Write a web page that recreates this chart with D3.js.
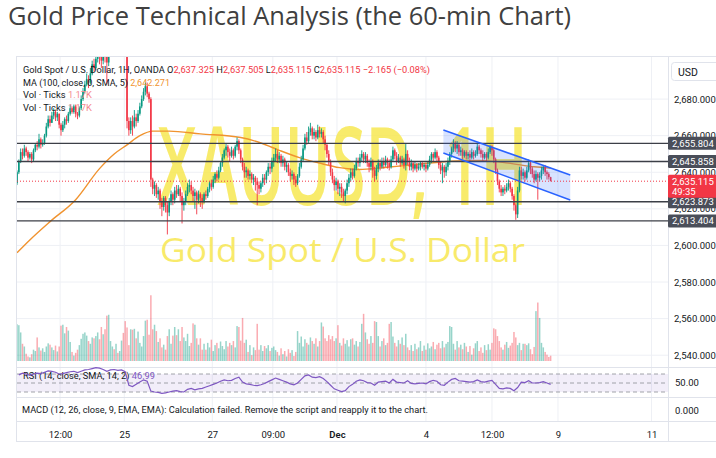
<!DOCTYPE html>
<html>
<head>
<meta charset="utf-8">
<script src="https://cdn.jsdelivr.net/npm/d3@7"></script>
<style>
  html, body { margin: 0; padding: 0; background: #ffffff; }
  svg { display: block; font-family: Roboto, "Liberation Sans", sans-serif; }
</style>
</head>
<body>
<svg id="chart" width="716" height="458"></svg>
<script>
// ---- XAUUSD 1H candles (open of each bar = previous close) ----
const firstOpen = 2634;
const closes = [
  2640,2646,2651,2649,2653,2651,2648,2650,2647,2652,
  2655,2654,2658,2655,2656,2660,2665,2669,2667,2671,
  2673,2670,2672,2666,2663,2666,2669,2668,2672,2675,
  2673,2676,2672,2671,2675,2680,2684,2688,2691,2689,
  2694,2699,2697,2702,2706,2703,2701,2705,2703,2700,
  2706,2710,2713,2712,2714,2711,2713,2715,2712,2710,
  2668,2663,2668,2665,2670,2668,2672,2676,2680,2684,
  2687,2683,2680,2636,2631,2633,2628,2630,2624,2621,
  2626,2622,2618,2624,2628,2625,2630,2628,2631,2627,
  2622,2624,2628,2632,2633,2630,2627,2629,2625,2628,
  2626,2624,2628,2627,2631,2634,2632,2636,2639,2637,
  2641,2645,2648,2652,2654,2651,2649,2652,2649,2654,
  2657,2652,2647,2643,2640,2641,2638,2639,2636,2637,
  2635,2633,2631,2634,2637,2636,2640,2643,2642,2646,
  2648,2650,2647,2649,2645,2647,2643,2644,2640,2638,
  2639,2636,2634,2638,2643,2647,2653,2659,2657,2662,
  2664,2660,2662,2659,2663,2661,2662,2658,2655,2650,
  2646,2640,2636,2633,2635,2631,2632,2629,2627,2630,
  2634,2637,2640,2638,2642,2646,2645,2648,2650,2647,
  2649,2645,2643,2646,2641,2638,2642,2645,2643,2646,
  2644,2647,2645,2643,2647,2652,2649,2646,2648,2645,
  2647,2644,2650,2646,2643,2645,2642,2644,2642,2643,
  2645,2643,2644,2642,2644,2647,2650,2648,2651,2648,
  2644,2641,2643,2640,2643,2646,2650,2653,2656,2653,
  2655,2651,2652,2649,2651,2649,2650,2648,2651,2649,
  2650,2654,2652,2650,2648,2650,2648,2651,2654,2652,
  2647,2641,2635,2631,2629,2631,2630,2632,2634,2631,
  2627,2622,2617,2630,2641,2638,2640,2637,2641,2645,
  2642,2639,2636,2639,2637,2638,2641,2643,2640,2639,
  2637.325,2635.115
];
const highs = [
  2641,2647,2653,2653,2655,2654,2652,2651,2651,2653,
  2656,2657,2661,2659,2658,2661,2667,2671,2671,2673,
  2675,2674,2673,2672,2667,2668,2670,2671,2673,2677,
  2676,2677,2677,2673,2676,2682,2686,2690,2694,2693,
  2697,2701,2702,2706,2710,2708,2705,2707,2708,2706,
  2709,2713,2716,2717,2718,2716,2716,2718,2716,2714,
  2711,2670,2670,2671,2674,2672,2674,2678,2682,2686,
  2689,2689,2684,2681,2637,2635,2634,2632,2631,2626,
  2627,2627,2624,2626,2630,2629,2632,2633,2633,2632,
  2629,2626,2630,2634,2636,2635,2632,2631,2630,2630,
  2629,2628,2629,2630,2632,2635,2636,2638,2640,2641,
  2643,2646,2650,2653,2656,2655,2653,2654,2653,2655,
  2659,2658,2653,2648,2645,2643,2642,2641,2640,2639,
  2638,2637,2635,2635,2639,2639,2641,2645,2645,2648,
  2650,2653,2652,2651,2650,2649,2648,2646,2645,2642,
  2641,2640,2638,2639,2645,2649,2655,2661,2662,2665,
  2667,2665,2664,2663,2666,2665,2664,2663,2660,2656,
  2652,2647,2642,2638,2637,2636,2634,2634,2631,2631,
  2636,2639,2642,2642,2644,2648,2648,2650,2652,2651,
  2651,2650,2647,2648,2647,2643,2644,2647,2647,2648,
  2648,2649,2648,2647,2649,2654,2653,2651,2650,2649,
  2649,2648,2656,2652,2648,2647,2646,2646,2645,2645,
  2646,2646,2645,2645,2646,2649,2651,2651,2653,2652,
  2649,2646,2645,2644,2645,2648,2651,2654,2658,2657,
  2657,2656,2654,2653,2652,2652,2651,2652,2653,2652,
  2652,2656,2655,2653,2652,2651,2651,2653,2655,2655,
  2653,2648,2642,2636,2633,2632,2633,2634,2636,2635,
  2632,2628,2623,2632,2643,2643,2642,2641,2643,2647,
  2646,2643,2641,2641,2640,2640,2643,2644,2644,2641,
  2640,2637.505
];
const lows = [
  2633,2639,2645,2647,2648,2649,2646,2647,2645,2646,
  2651,2652,2653,2653,2654,2655,2659,2664,2665,2667,
  2669,2668,2668,2664,2660,2662,2664,2666,2667,2671,
  2672,2672,2670,2669,2670,2674,2679,2683,2687,2686,
  2688,2693,2695,2696,2700,2699,2697,2699,2700,2688,
  2698,2705,2709,2709,2710,2708,2709,2711,2709,2707,
  2664,2660,2661,2660,2664,2665,2667,2671,2675,2679,
  2682,2681,2678,2632,2628,2627,2626,2625,2620,2616,
  2619,2618,2606,2616,2622,2622,2623,2626,2627,2624,
  2612,2619,2622,2627,2629,2628,2624,2620,2617,2623,
  2621,2620,2623,2625,2626,2629,2630,2631,2634,2635,
  2636,2640,2643,2647,2649,2648,2646,2648,2647,2648,
  2652,2650,2645,2641,2637,2637,2636,2636,2634,2633,
  2630,2622,2628,2629,2632,2633,2634,2638,2639,2640,
  2643,2646,2645,2645,2643,2643,2641,2640,2638,2635,
  2636,2633,2632,2633,2637,2642,2646,2652,2655,2656,
  2660,2658,2658,2657,2658,2659,2659,2656,2652,2648,
  2644,2638,2634,2630,2630,2628,2627,2626,2624,2623,
  2628,2632,2635,2636,2637,2641,2643,2643,2646,2645,
  2645,2643,2640,2641,2637,2635,2636,2640,2641,2642,
  2642,2643,2642,2641,2642,2646,2647,2644,2645,2643,
  2644,2642,2641,2644,2641,2641,2640,2641,2640,2641,
  2641,2642,2641,2640,2641,2643,2645,2646,2647,2646,
  2642,2639,2634,2637,2638,2641,2644,2648,2651,2651,
  2650,2649,2649,2647,2648,2647,2647,2646,2647,2647,
  2648,2649,2650,2648,2646,2647,2646,2647,2650,2649,
  2645,2639,2633,2629,2627,2627,2628,2629,2630,2629,
  2625,2619,2614,2615,2629,2636,2636,2635,2636,2640,
  2639,2637,2634,2635,2625,2635,2636,2639,2638,2636,
  2636,2635.115
];
// Tick volume per bar, thousands
const volumes = [
  8.1,7.9,6.3,3.8,3.2,1.6,1.0,0.8,1.5,2.5,
  2.2,5.2,3.0,2.3,2.8,2.0,3.2,3.9,3.6,3.0,
  2.4,3.4,2.1,3.2,7.8,8.0,6.1,7.5,6.7,4.2,
  2.0,1.2,1.8,2.5,3.5,4.9,6.0,6.3,5.6,4.4,
  3.8,5.2,5.0,5.5,6.3,4.8,7.5,5.9,7.0,10.0,
  10.2,4.4,3.2,2.6,3.8,1.8,2.2,4.5,6.2,8.8,
  7.4,3.5,7.0,6.9,7.1,5.0,6.5,4.0,3.2,5.5,
  8.9,9.1,5.8,14.5,7.0,8.0,6.6,4.2,5.0,3.0,
  3.6,2.5,5.5,7.0,3.8,5.6,7.5,5.7,7.0,4.4,
  7.5,5.2,4.4,6.0,3.3,4.0,8.3,8.0,5.0,3.6,
  5.0,2.5,3.8,2.5,4.0,3.0,4.7,2.2,3.5,4.0,
  2.8,4.3,3.3,2.6,4.4,3.2,4.0,3.5,4.4,3.0,
  7.7,7.5,4.5,9.5,4.0,4.7,2.0,3.5,1.3,3.0,
  2.4,8.2,2.5,3.5,2.2,3.3,2.8,3.5,2.2,2.9,
  3.2,2.4,2.0,1.2,2.8,1.5,2.2,1.0,2.6,1.8,
  2.4,1.1,2.0,6.6,4.0,5.4,3.2,4.8,4.0,3.6,
  5.2,4.4,3.8,5.0,3.2,4.4,8.5,7.6,5.0,4.4,
  5.7,4.8,5.5,4.4,5.0,7.9,4.0,3.4,5.0,3.8,
  4.6,3.2,4.8,5.0,3.6,4.4,3.2,4.2,8.2,10.4,
  6.3,4.8,3.8,5.5,4.0,8.8,8.6,5.5,3.2,4.4,
  5.0,3.5,4.0,8.2,8.6,5.4,4.0,3.2,4.6,3.8,
  5.2,3.5,6.0,3.0,2.4,3.5,2.2,3.8,2.6,3.0,
  4.4,2.2,3.4,2.5,3.9,2.8,3.2,4.2,2.6,3.6,
  4.0,2.8,4.4,3.0,3.8,4.2,7.7,7.5,3.8,2.5,
  4.4,3.0,3.6,2.6,4.0,3.2,2.0,3.3,1.4,2.8,
  3.9,4.4,2.2,3.0,1.8,3.5,2.4,3.7,2.5,4.0,
  7.2,7.0,5.5,4.4,3.0,2.5,3.6,4.2,2.9,3.4,
  4.0,6.4,5.2,3.5,4.0,2.4,3.8,3.8,3.5,3.9,
  2.6,1.5,3.1,11.0,12.9,9.5,4.0,3.0,2.0,1.4,
  0.9,1.17
];
// RSI(14) sampled on bars 1, 3, 5, ... 291
const rsiValues = [
  68,72,70,67,70,72,71,74,77,76,
  74,70,71,73,75,76,73,76,79,80,
  82,84,83,80,76,79,80,78,79,75,
  45,42,47,52,57,54,32,30,29,27,
  28,30,32,33,31,30,36,38,35,37,
  38,41,44,47,50,54,57,55,56,60,
  63,52,48,47,45,44,46,49,53,57,
  61,58,55,52,48,46,50,58,66,68,
  63,62,64,60,53,45,37,34,31,33,
  42,47,54,57,55,51,50,45,52,53,
  54,50,58,52,51,50,55,49,48,49,
  50,48,53,56,54,46,45,52,58,60,
  55,54,53,52,53,57,53,52,54,56,
  47,38,37,39,38,33,40,52,51,55,
  50,50,51,53,50,46.99
];
// MA(100) readings at selected bars
const maBars   = [0, 7, 18, 32, 45, 53, 60, 67, 74, 83, 100, 122, 133, 143, 154, 165, 176, 187, 199, 220, 236, 252, 268, 282, 291];
const maValues = [2596, 2603, 2613, 2625, 2642, 2650, 2655, 2660, 2662.5, 2662.5, 2661, 2659, 2656, 2652, 2648, 2645, 2642.5, 2641.5, 2642.5, 2644.5, 2646, 2646.5, 2645, 2643, 2642.271];

// Horizontal support / resistance levels and last price
const levels = [2655.804, 2645.858, 2623.873, 2613.404];
const lastPrice = 2635.115;
const priceTicks = [2680, 2660, 2640, 2620, 2600, 2580, 2560, 2540];
const timeLabels = ["12:00", "25", "27", "09:00", "Dec", "4", "12:00", "9", "11"];
const timeTickBars = [23.5, 58.5, 106.5, 139.5, 174.5, 223, 259, 295, 346];
// Descending channel drawing (start/end bar, upper & lower prices)
const channelBars  = [232.5, 301.7];
const channelUpper = [2663.1, 2638.5];
const channelLower = [2650.5, 2624.8];

// ---- layout ----
const svg = d3.select("#chart");
const plotL = 17, plotR = 668, priceTop = 57, priceBot = 367;
const UP = "#089981", DOWN = "#f23645";

const x = d3.scaleLinear().domain([0, 355]).range([plotL, plotR]);
const y = d3.scaleLinear().domain([2533, 2703]).range([368, 57]);
const yVol = d3.scaleLinear().domain([0, 15]).range([361, 293]);
const yRsi = d3.scaleLinear().domain([30, 70]).range([392, 374]);

const bars = closes.map((c, i) => ({
  i, c, h: highs[i], l: lows[i], v: volumes[i],
  o: i === 0 ? firstOpen : closes[i - 1]
}));

// Title
svg.append("text")
  .attr("x", 8).attr("y", 25)
  .attr("font-family", "'Open Sans', sans-serif")
  .attr("font-size", 25).attr("fill", "#404040")
  .attr("textLength", 563).attr("lengthAdjust", "spacingAndGlyphs")
  .text("Gold Price Technical Analysis (the 60-min Chart)");

// Chart frame
svg.append("rect").attr("x", 16.5).attr("y", 56.5).attr("width", 720).attr("height", 385)
  .attr("fill", "#ffffff").attr("stroke", "#e0e3eb");

// Grid
const grid = svg.append("g");
grid.selectAll("line.v").data(timeTickBars).join("line")
  .attr("x1", d => x(d)).attr("x2", d => x(d))
  .attr("y1", priceTop).attr("y2", 421)
  .attr("stroke", "#eef0f5");
grid.selectAll("line.h").data(priceTicks).join("line")
  .attr("x1", plotL).attr("x2", plotR)
  .attr("y1", d => y(d)).attr("y2", d => y(d))
  .attr("stroke", "#eef0f5");

// Pane separators
[367.5, 397.5, 421.5].forEach(py => {
  svg.append("line").attr("x1", plotL).attr("x2", 716).attr("y1", py).attr("y2", py)
    .attr("stroke", "#e0e3eb");
});
svg.append("line").attr("x1", plotR + 0.5).attr("x2", plotR + 0.5).attr("y1", priceTop).attr("y2", 442)
  .attr("stroke", "#e0e3eb");

// Price pane clip
svg.append("clipPath").attr("id", "pane")
  .append("rect").attr("x", plotL).attr("y", priceTop).attr("width", plotR - plotL).attr("height", priceBot - priceTop);
const pane = svg.append("g").attr("clip-path", "url(#pane)");

// Watermark
const cx = (plotL + plotR) / 2;
pane.append("text")
  .attr("x", cx).attr("y", 205).attr("text-anchor", "middle")
  .attr("font-family", "'Open Sans', sans-serif").attr("font-size", 108).attr("font-weight", 600)
  .attr("fill", "#f7e64a").attr("fill-opacity", 0.82)
  .attr("textLength", 370).attr("lengthAdjust", "spacingAndGlyphs")
  .text("XAUUSD, 1H");
pane.append("text")
  .attr("x", cx).attr("y", 262).attr("text-anchor", "middle")
  .attr("font-family", "'Open Sans', sans-serif").attr("font-size", 33)
  .attr("fill", "#f7e64a").attr("fill-opacity", 0.82)
  .attr("textLength", 365).attr("lengthAdjust", "spacingAndGlyphs")
  .text("Gold Spot / U.S. Dollar");

// Legend
const legend = svg.append("g").attr("font-size", 9.5);
const l1 = legend.append("text").attr("x", 23).attr("y", 72.5)
  .attr("textLength", 407).attr("lengthAdjust", "spacingAndGlyphs");
l1.append("tspan").attr("fill", "#131722").text("Gold Spot / U.S. Dollar, 1H, OANDA  ");
[["O", "2,637.325"], ["H", "2,637.505"], ["L", "2,635.115"], ["C", "2,635.115"]].forEach(([k, v]) => {
  l1.append("tspan").attr("fill", "#131722").text(k);
  l1.append("tspan").attr("fill", DOWN).text(v + "  ");
});
l1.append("tspan").attr("fill", DOWN).text("\u22122.165 (\u22120.08%)");

const l2 = legend.append("text").attr("x", 23).attr("y", 85.5)
  .attr("textLength", 147).attr("lengthAdjust", "spacingAndGlyphs");
l2.append("tspan").attr("fill", "#131722").text("MA (100, close, 0, SMA, 5)  ");
l2.append("tspan").attr("fill", "#f0932f").text("2,642.271");

[98, 110.5].forEach(ly => {
  const t = legend.append("text").attr("x", 23).attr("y", ly)
    .attr("textLength", 69).attr("lengthAdjust", "spacingAndGlyphs");
  t.append("tspan").attr("fill", "#131722").text("Vol \u00b7 Ticks  ");
  t.append("tspan").attr("fill", "#f48a8f").text("1.17K");
});

// Volume overlay
pane.append("g").selectAll("rect").data(bars).join("rect")
  .attr("x", d => x(d.i) - 0.75).attr("width", 1.5)
  .attr("y", d => yVol(d.v)).attr("height", d => yVol(0) - yVol(d.v))
  .attr("fill", d => d.c >= d.o ? UP : DOWN).attr("fill-opacity", 0.42);

// Moving average
pane.append("path")
  .datum(maBars.map((b, k) => [b, maValues[k]]))
  .attr("fill", "none").attr("stroke", "#f0932f").attr("stroke-width", 1.4)
  .attr("d", d3.line().x(d => x(d[0])).y(d => y(d[1])).curve(d3.curveMonotoneX));

// Candles
const cg = pane.append("g");
cg.selectAll("line").data(bars).join("line")
  .attr("x1", d => x(d.i)).attr("x2", d => x(d.i))
  .attr("y1", d => y(d.h)).attr("y2", d => y(d.l))
  .attr("stroke", d => d.c >= d.o ? UP : DOWN).attr("stroke-width", 0.9);
cg.selectAll("rect").data(bars).join("rect")
  .attr("x", d => x(d.i) - 0.8).attr("width", 1.6)
  .attr("y", d => y(Math.max(d.o, d.c)))
  .attr("height", d => Math.max(0.8, Math.abs(y(d.o) - y(d.c))))
  .attr("fill", d => d.c >= d.o ? UP : DOWN);

// Horizontal levels
pane.selectAll("line.lvl").data(levels).join("line")
  .attr("x1", plotL).attr("x2", plotR)
  .attr("y1", d => y(d)).attr("y2", d => y(d))
  .attr("stroke", "#3c3f47").attr("stroke-width", 1.4);

// Descending channel
const chPoly = [
  [channelBars[0], channelUpper[0]], [channelBars[1], channelUpper[1]],
  [channelBars[1], channelLower[1]], [channelBars[0], channelLower[0]]
];
pane.append("polygon")
  .attr("points", chPoly.map(p => [x(p[0]), y(p[1])].join(",")).join(" "))
  .attr("fill", "#2962ff").attr("fill-opacity", 0.18);
[channelUpper, channelLower].forEach(arr => {
  pane.append("line")
    .attr("x1", x(channelBars[0])).attr("y1", y(arr[0]))
    .attr("x2", x(channelBars[1])).attr("y2", y(arr[1]))
    .attr("stroke", "#2962ff").attr("stroke-width", 1.5);
});

// Last price line
pane.append("line")
  .attr("x1", plotL).attr("x2", plotR)
  .attr("y1", y(lastPrice)).attr("y2", y(lastPrice))
  .attr("stroke", DOWN).attr("stroke-width", 1).attr("stroke-dasharray", "1,2");

// RSI pane
svg.append("rect").attr("x", plotL).attr("width", plotR - plotL)
  .attr("y", yRsi(70)).attr("height", yRsi(30) - yRsi(70))
  .attr("fill", "#7e57c2").attr("fill-opacity", 0.1);
[70, 50, 30].forEach(v => {
  svg.append("line").attr("x1", plotL).attr("x2", plotR)
    .attr("y1", yRsi(v)).attr("y2", yRsi(v))
    .attr("stroke", "#8a8d96").attr("stroke-width", 0.8).attr("stroke-dasharray", "4,3");
});
const rsiLeg = svg.append("text").attr("x", 23).attr("y", 378.5).attr("font-size", 9.5)
  .attr("textLength", 132).attr("lengthAdjust", "spacingAndGlyphs");
rsiLeg.append("tspan").attr("fill", "#131722").text("RSI (14, close, SMA, 14, 2)  ");
rsiLeg.append("tspan").attr("fill", "#7e57c2").text("46.99");
svg.append("path")
  .datum(rsiValues.map((v, k) => [2 * k + 1, v]))
  .attr("fill", "none").attr("stroke", "#7e57c2").attr("stroke-width", 1.2)
  .attr("d", d3.line().x(d => x(d[0])).y(d => yRsi(d[1])));

// MACD pane text
svg.append("text").attr("x", 22).attr("y", 413).attr("font-size", 9.5).attr("fill", "#131722")
  .attr("textLength", 406).attr("lengthAdjust", "spacingAndGlyphs")
  .text("MACD (12, 26, close, 9, EMA, EMA): Calculation failed. Remove the script and reapply it to the chart.");

// Right price axis
const fmt = d3.format(",.3f");
const yAxis = svg.append("g").attr("transform", `translate(${plotR + 3},0)`)
  .call(d3.axisRight(y).tickValues(priceTicks).tickSize(0).tickFormat(fmt));
yAxis.select(".domain").remove();
yAxis.selectAll("text").attr("font-size", 9.5).attr("fill", "#131722")
  .attr("font-family", "Roboto, sans-serif");

svg.append("text").attr("x", 675).attr("y", 385.5).attr("font-size", 9.5).attr("fill", "#131722").text("50.00");
svg.append("text").attr("x", 675).attr("y", 413.5).attr("font-size", 9.5).attr("fill", "#131722").text("0.000");

// Level tags
const tags = svg.append("g");
levels.forEach(v => {
  tags.append("rect").attr("x", plotR).attr("y", y(v) - 6.5).attr("width", 50).attr("height", 13)
    .attr("rx", 1.5).attr("fill", "#4a4e59");
  tags.append("text").attr("x", 672).attr("y", y(v) + 3.5).attr("font-size", 9.5)
    .attr("fill", "#ffffff").text(fmt(v));
});
tags.append("rect").attr("x", plotR).attr("y", y(lastPrice) - 6.5).attr("width", 50).attr("height", 23)
  .attr("rx", 1.5).attr("fill", DOWN);
tags.append("text").attr("x", 672).attr("y", y(lastPrice) + 3.5).attr("font-size", 9.5)
  .attr("fill", "#ffffff").text(fmt(lastPrice));
tags.append("text").attr("x", 672).attr("y", y(lastPrice) + 14).attr("font-size", 9.5)
  .attr("fill", "#ffffff").text("49:35");

// Currency button
svg.append("rect").attr("x", 671.5).attr("y", 62.5).attr("width", 50).attr("height", 18).attr("rx", 3)
  .attr("fill", "#ffffff").attr("stroke", "#e0e3eb");
svg.append("text").attr("x", 678).attr("y", 75.5).attr("font-size", 10.5).attr("fill", "#131722").text("USD");

// Time axis
const xAxis = svg.append("g").attr("transform", "translate(0,428)")
  .call(d3.axisBottom(x).tickValues(timeTickBars).tickSize(0)
    .tickFormat((d, k) => timeLabels[k]));
xAxis.select(".domain").remove();
xAxis.selectAll("text").attr("font-size", 9.5).attr("fill", "#131722")
  .attr("font-family", "Roboto, sans-serif")
  .attr("font-weight", (d, k) => timeLabels[k] === "Dec" ? 600 : 400);
</script>
</body>
</html>
